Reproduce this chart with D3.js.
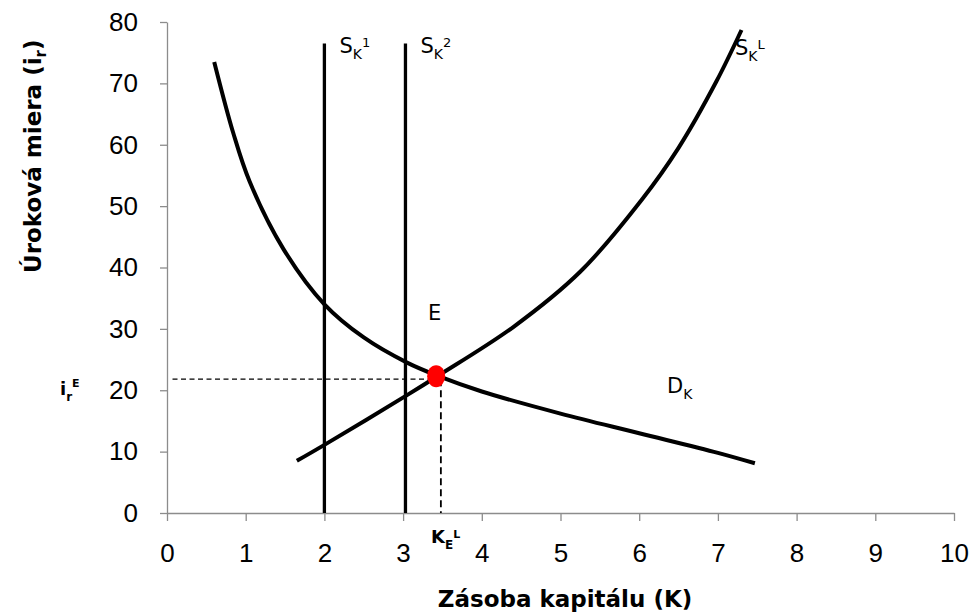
<!DOCTYPE html>
<html>
  <head>
    <meta charset="utf-8">
    <style>
    body { margin: 0; border: 0; overflow: hidden; background: #fff; }
    .axis path, .axis line { fill: none; stroke: #8c8c8c; stroke-width: 1.3px; }
    .axis text { font-family: "Liberation Sans", Arial, sans-serif; font-size: 26px; fill: #000; }
    .lbl { font-family: "Comic Sans MS", "DejaVu Sans", sans-serif; fill: #000; }
    .title { font-family: "Comic Sans MS", "DejaVu Sans", sans-serif; font-size: 23px; font-weight: bold; fill: #000; }
    </style>
  </head>
  <body>
    <script src="https://cdnjs.cloudflare.com/ajax/libs/d3/7.8.5/d3.min.js"></script>
    <script>
var width = 975, height = 615,
    margin = ({top: 22, right: 21, bottom: 102, left: 167});

// data
var xTicks = [0, 1, 2, 3, 4, 5, 6, 7, 8, 9, 10];
var yTicks = [0, 10, 20, 30, 40, 50, 60, 70, 80];
var demand = [[0.6, 73.5], [0.84, 62], [1.05, 54], [1.48, 43], [2, 34], [2.5, 28.6], [3.05, 24.5],
              [3.45, 22.3], [4, 19.8], [5, 16.2], [6, 13], [7, 9.8], [7.47, 8.1]];
var supplyL = [[1.65, 8.5], [2, 11.1], [3.05, 19.2], [3.45, 22.4], [4.4, 30.3], [5.25, 39.3],
               [6.03, 51], [6.5, 59.5], [6.98, 70.3], [7.3, 78.7]];
var supplyFixed = [{x: 2, top: 76.5, name: "1"}, {x: 3.03, top: 76.5, name: "2"}];
var equil = {x: 3.48, y: 21.8};

var x = d3.scaleLinear().domain([0, 10]).range([margin.left, width - margin.right]),
    y = d3.scaleLinear().domain([0, 80]).range([height - margin.bottom, margin.top]);

var svg = d3.select("body").append("svg")
    .attr("width", width)
    .attr("height", height);

svg.append("g")
  .attr("class", "axis")
  .attr("transform", "translate(0," + y(0) + ")")
  .call(d3.axisBottom(x).tickValues(xTicks).tickSize(8).tickSizeOuter(0).tickPadding(23));

svg.append("g")
  .attr("class", "axis")
  .attr("transform", "translate(" + x(0) + ",0)")
  .call(d3.axisLeft(y).tickValues(yTicks).tickSize(7).tickSizeOuter(0).tickPadding(22));

// dashed guides to the equilibrium
svg.append("line")
  .attr("x1", x(0.07)).attr("x2", x(equil.x - 0.16))
  .attr("y1", y(equil.y)).attr("y2", y(equil.y))
  .attr("stroke", "#000").attr("stroke-width", 1.2).attr("stroke-dasharray", "5,3.5");
svg.append("line")
  .attr("x1", x(equil.x)).attr("x2", x(equil.x))
  .attr("y1", y(equil.y)).attr("y2", y(0))
  .attr("stroke", "#000").attr("stroke-width", 1.8).attr("stroke-dasharray", "7,4");

var line = d3.line()
  .x(function(d) { return x(d[0]); })
  .y(function(d) { return y(d[1]); })
  .curve(d3.curveCatmullRom);

svg.selectAll("line.fixed")
  .data(supplyFixed)
  .enter().append("line")
  .attr("class", "fixed")
  .attr("x1", function(d) { return x(d.x); })
  .attr("x2", function(d) { return x(d.x); })
  .attr("y1", y(0))
  .attr("y2", function(d) { return y(d.top); })
  .attr("stroke", "#000").attr("stroke-width", 3.3);

svg.append("path").datum(demand)
  .attr("d", line).attr("fill", "none").attr("stroke", "#000").attr("stroke-width", 4);
svg.append("path").datum(supplyL)
  .attr("d", line).attr("fill", "none").attr("stroke", "#000").attr("stroke-width", 4);

svg.append("ellipse")
  .attr("cx", x(3.42)).attr("cy", y(22.3))
  .attr("rx", 9).attr("ry", 11)
  .attr("fill", "#ff0000");

// curve labels: letter with subscript and superscript
function label(px, py, main, sub, sup, size, supUp) {
  size = size || 21;
  var t = svg.append("text").attr("class", "lbl").attr("x", px).attr("y", py)
    .style("font-size", size + "px");
  t.append("tspan").text(main);
  if (sub) t.append("tspan").style("font-size", Math.round(size * 0.66) + "px").attr("dy", 6).text(sub);
  if (sup) t.append("tspan").style("font-size", Math.round(size * 0.62) + "px").attr("dy", -(6 + (supUp || 6))).text(sup);
  return t;
}

supplyFixed.forEach(function(d) {
  label(x(d.x) + 15, 53, "S", "K", d.name);
});
label(735, 55, "S", "K", "L");
label(428, 320, "E");
label(667, 393, "D", "K");
label(60, y(20) + 5, "i", "r", "E", 18, 8).attr("font-weight", "bold");
label(431, 543, "K", "E", "L", 18, 5).attr("font-weight", "bold");

// axis titles
svg.append("text").attr("class", "title")
  .attr("text-anchor", "middle")
  .attr("x", 565).attr("y", 607)
  .text("Zásoba kapitálu (K)");

var yt = svg.append("text").attr("class", "title")
  .attr("text-anchor", "start")
  .attr("transform", "translate(41,273) rotate(-90)");
yt.append("tspan").text("Úroková miera (i");
yt.append("tspan").style("font-size", "15px").attr("dy", 5).text("r");
yt.append("tspan").attr("dy", -5).text(")");
    </script>
  </body>
</html>
